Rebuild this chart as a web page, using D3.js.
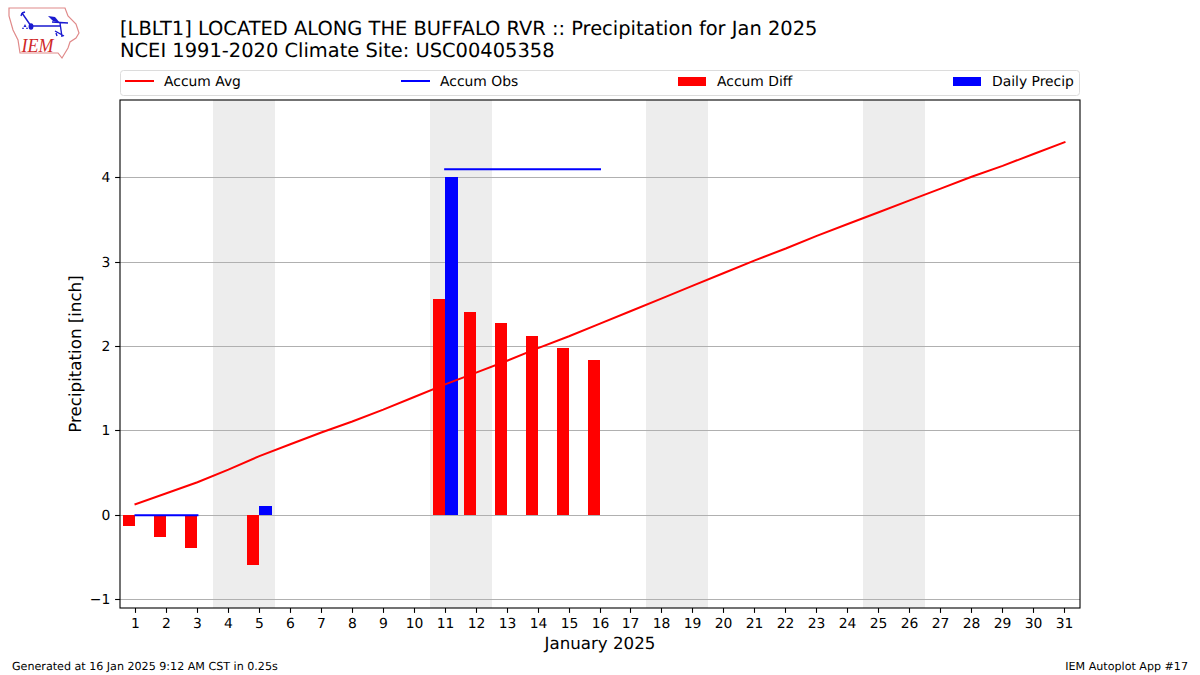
<!DOCTYPE html>
<html><head><meta charset="utf-8">
<script src="https://cdn.jsdelivr.net/npm/d3@7"></script>
<style>html,body{margin:0;background:#fff}svg{display:block}text{font-family:"DejaVu Sans",sans-serif;fill:#000;text-rendering:geometricPrecision}</style>
</head><body><svg id="c" width="1200" height="675"></svg>
<script>
const days = d3.range(1, 32);
const accumAvg = [0.13,0.26,0.39,0.54,0.70,0.84,0.98,1.11,1.25,1.40,1.55,1.69,1.83,1.98,2.12,2.27,2.42,2.57,2.72,2.87,3.02,3.16,3.31,3.45,3.59,3.73,3.87,4.01,4.14,4.28,4.42];
const accumObs = [0,0,0,null,null,null,null,null,null,null,4.10,4.10,4.10,4.10,4.10,4.10,null,null,null,null,null,null,null,null,null,null,null,null,null,null,null];
const accumDiff = [-0.13,-0.26,-0.39,null,-0.60,null,null,null,null,null,2.55,2.40,2.27,2.12,1.98,1.83,null,null,null,null,null,null,null,null,null,null,null,null,null,null,null];
const dailyPrecip = [0,0,0,0,0.10,0,0,0,0,0,4.00,0,0,0,0,0,0,0,0,0,0,0,0,0,0,0,0,0,0,0,0];
const weekends = [[3.5,5.5],[10.5,12.5],[17.5,19.5],[24.5,26.5]];
const yTicks = [-1,0,1,2,3,4];
const titleLines = ["[LBLT1] LOCATED ALONG THE BUFFALO RVR :: Precipitation for Jan 2025","NCEI 1991-2020 Climate Site: USC00405358"];
const legendItems = [["Accum Avg","line","#f00",125,164],["Accum Obs","line","#00f",401,440],["Accum Diff","bar","#f00",678,717],["Daily Precip","bar","#00f",953,992]];

const L=120,R=1080,T=100,B=608;
const x=d3.scaleLinear().domain([0.5,31.5]).range([L,R]);
const y=d3.scaleLinear().domain([-1.1,4.92]).range([B,T]);
const snap=v=>Math.floor(v)+.5;
const svg=d3.select("#c");

// weekend bands
svg.append("g").attr("shape-rendering","crispEdges").selectAll("rect").data(weekends).join("rect")
  .attr("x",d=>x(d[0])).attr("width",d=>x(d[1])-x(d[0])).attr("y",T).attr("height",B-T).attr("fill","#ededed");
// grid
svg.append("g").selectAll("line").data(yTicks).join("line")
  .attr("x1",L).attr("x2",R).attr("y1",d=>snap(y(d))).attr("y2",d=>snap(y(d)))
  .attr("stroke","#b0b0b0").attr("stroke-width",1);
// bars
const bw=0.4;
const py=v=>Math.floor(y(v));
const pairs=(a)=>a.map((v,i)=>({d:days[i],v})).filter(o=>o.v!==null&&o.v!==0);
svg.append("g").attr("shape-rendering","crispEdges").selectAll("rect").data(pairs(accumDiff)).join("rect")
  .attr("x",o=>x(o.d-bw)).attr("width",x(bw)-x(0)).attr("y",o=>py(Math.max(o.v,0))).attr("height",o=>Math.abs(py(o.v)-py(0))).attr("fill","#f00");
svg.append("g").attr("shape-rendering","crispEdges").selectAll("rect").data(pairs(dailyPrecip)).join("rect")
  .attr("x",o=>x(o.d)).attr("width",x(bw)-x(0)).attr("y",o=>py(o.v)).attr("height",o=>py(0)-py(o.v)).attr("fill","#00f");
// lines
const ln=d3.line().defined(o=>o.v!==null).x(o=>x(o.d)).y(o=>y(o.v));
svg.append("path").attr("d",ln(accumAvg.map((v,i)=>({d:days[i],v})))).attr("fill","none").attr("stroke","#f00").attr("stroke-width",2).attr("stroke-linecap","square");
svg.append("path").attr("d",ln(accumObs.map((v,i)=>({d:days[i],v})))).attr("fill","none").attr("stroke","#00f").attr("stroke-width",2).attr("stroke-linecap","square");
// axes
const xa=svg.append("g").attr("transform",`translate(0,${B})`).call(d3.axisBottom(x).tickValues(days).tickFormat(d3.format("d")).tickSize(4.9).tickPadding(5).offset(0));
const ya=svg.append("g").attr("transform",`translate(${L},0)`).call(d3.axisLeft(y).tickValues(yTicks).tickFormat(d=>d<0?"\u2212"+(-d):d).tickSize(4.9).tickPadding(4.8).offset(0));
xa.selectAll(".tick").attr("transform",d=>`translate(${snap(x(d))},0)`);
ya.selectAll(".tick").attr("transform",d=>`translate(0,${snap(y(d))})`);
[xa,ya].forEach(g=>{g.selectAll("text").style("font-size","13.89px").style("font-family",'"DejaVu Sans"').attr("fill","#000");g.select(".domain").remove();g.selectAll("line").attr("stroke","#000").attr("stroke-width",1.1);});
svg.append("rect").attr("x",L).attr("y",T).attr("width",R-L).attr("height",B-T).attr("fill","none").attr("stroke","#000").attr("stroke-width",1.1);
// labels
svg.append("text").attr("x",600).attr("y",649).attr("text-anchor","middle").style("font-size","16.67px").text("January 2025");
svg.append("text").attr("transform","translate(80.5,354) rotate(-90)").attr("text-anchor","middle").style("font-size","16.67px").text("Precipitation [inch]");
titleLines.forEach((t,i)=>svg.append("text").attr("x",120).attr("y",35+i*22).style("font-size","19.44px").text(t));
// legend
svg.append("rect").attr("x",120.5).attr("y",70.5).attr("width",959).attr("height",25).attr("rx",3).attr("fill","#fff").attr("stroke","#dcdcdc");
legendItems.forEach(([t,k,c,hx,tx])=>{
  if(k==="line") svg.append("line").attr("x1",hx).attr("x2",hx+29).attr("y1",81).attr("y2",81).attr("stroke",c).attr("stroke-width",2);
  else svg.append("rect").attr("x",hx).attr("y",77).attr("width",28).attr("height",9).attr("fill",c);
  svg.append("text").attr("x",tx).attr("y",86).style("font-size","13.89px").text(t);
});
// footer
svg.append("text").attr("x",12).attr("y",670).style("font-size","11.11px").text("Generated at 16 Jan 2025 9:12 AM CST in 0.25s");
svg.append("text").attr("x",1188).attr("y",670).attr("text-anchor","end").style("font-size","11.11px").text("IEM Autoplot App #17");
// logo
const logo=svg.append("g");
logo.append("path").attr("d","M9,8 L65,8 L68,16 L76,24 L79,33 L76,38 L70,42 L68,48 L65,53 L62,58 L58,53 L20,53 L18,40 L13,30 L9,16 Z").attr("fill","#fff").attr("stroke","#e08a8a").attr("stroke-width",1.2);
logo.append("path").attr("d","M31,26 L60,26 M22,13 L31,26 M22,13 L25,12 M22,13 L21,16 M52,22 L68,23 M60,23 L62,37 M55,31 L64,36 M56,33 L57,36").attr("fill","none").attr("stroke","#1a1ad0").attr("stroke-width",1.4);
logo.append("path").attr("d","M48,16 L55,17 L60,23 L53,21 Z").attr("fill","#1a1ad0");
logo.append("ellipse").attr("cx",31).attr("cy",26.5).attr("rx",2.4).attr("ry",3.2).attr("fill","#1a1ad0");
logo.append("path").attr("d","M25,24 L26.5,27 L23.5,27 Z M23,27 L24,29 L22,29 Z M27,27 L28,29 L26,29 Z").attr("fill","#1a1ad0");
logo.append("text").attr("x",21.5).attr("y",52).attr("textLength",32).attr("lengthAdjust","spacingAndGlyphs").style("font-family",'"Liberation Serif",serif').style("font-style","italic").style("font-size","20px").style("fill","#d02828").text("IEM");
</script></body></html>
